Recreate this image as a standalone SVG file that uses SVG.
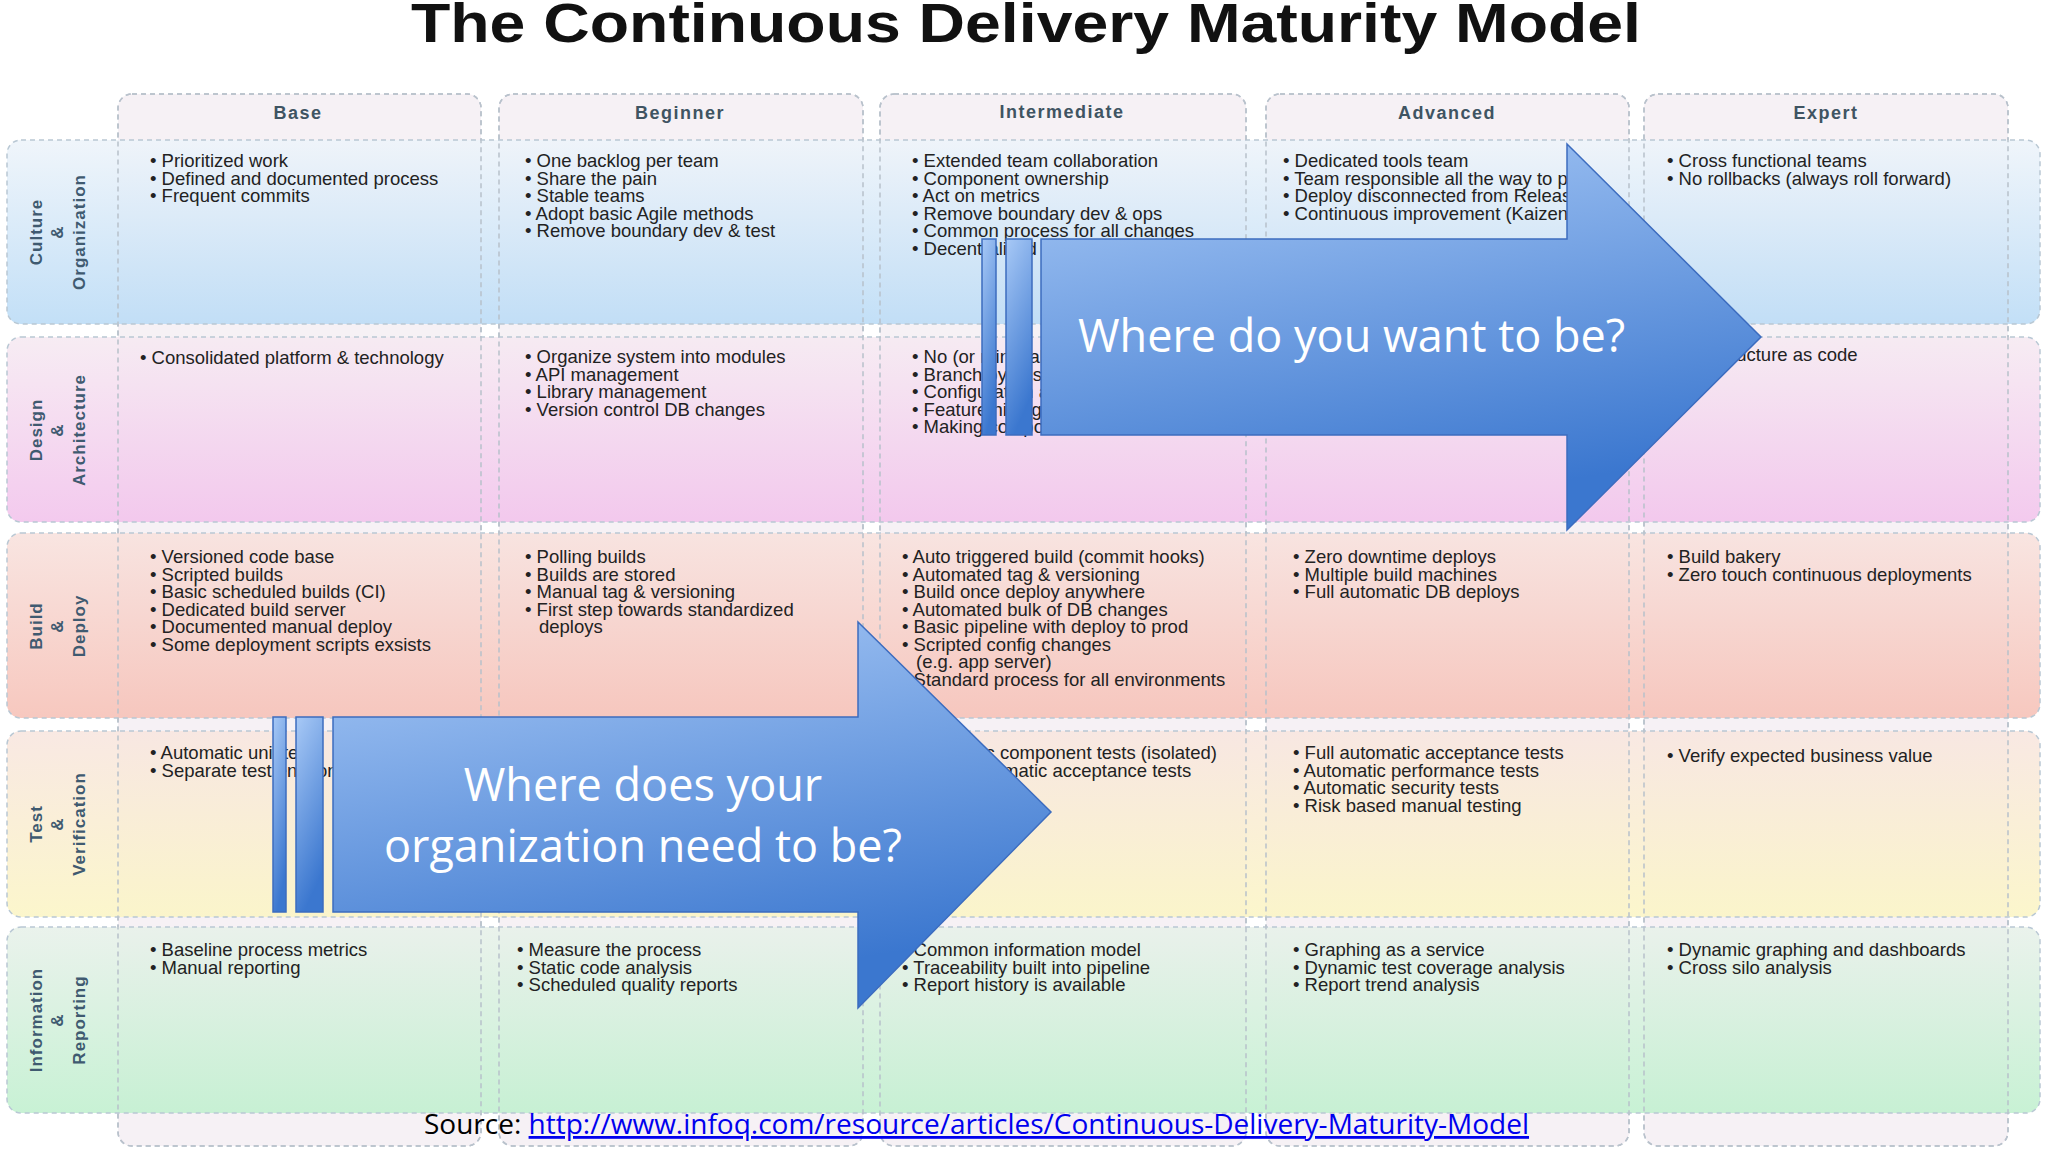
<svg xmlns="http://www.w3.org/2000/svg" width="2048" height="1153" viewBox="0 0 2048 1153">
<defs>
<style>
.col{fill:#f6f1f5;stroke:#b9c2cc;stroke-width:1.5;stroke-dasharray:5 4}
.colo{fill:none;stroke:#b9c2cc;stroke-width:1.5;stroke-dasharray:5 4}
.row{stroke:#b9c8d4;stroke-width:1.5;stroke-dasharray:5 4}
.hd{font-family:"Liberation Sans",Arial,sans-serif;font-weight:bold;font-size:18px;fill:#3f5462;text-anchor:middle;letter-spacing:1.5px}
.rl{font-family:"Liberation Sans",Arial,sans-serif;font-weight:bold;font-size:17px;fill:#3f5a70;text-anchor:middle;letter-spacing:1px}
.t{font-family:"Liberation Sans",Arial,sans-serif;font-size:18.5px;fill:#222}
.arr{fill:url(#ag);stroke:#3c6cbf;stroke-width:1.5}
.at{font-family:"Open Sans","Noto Sans",sans-serif;font-size:45px;fill:#fff}
</style>
<linearGradient id="g1" x1="0" y1="0" x2="0" y2="1"><stop offset="0" stop-color="#eef4fa"/><stop offset="1" stop-color="#bcdcf6"/></linearGradient>
<linearGradient id="g2" x1="0" y1="0" x2="0" y2="1"><stop offset="0" stop-color="#f6eaf2"/><stop offset="1" stop-color="#f2c4ec"/></linearGradient>
<linearGradient id="g3" x1="0" y1="0" x2="0" y2="1"><stop offset="0" stop-color="#f8e2de"/><stop offset="1" stop-color="#f6c2b8"/></linearGradient>
<linearGradient id="g4" x1="0" y1="0" x2="0" y2="1"><stop offset="0" stop-color="#f8e6e0"/><stop offset="1" stop-color="#fbf5c6"/></linearGradient>
<linearGradient id="g5" x1="0" y1="0" x2="0" y2="1"><stop offset="0" stop-color="#e8f1ea"/><stop offset="1" stop-color="#c2f0d0"/></linearGradient>
<linearGradient id="ag" x1="0" y1="0" x2="0.3" y2="1"><stop offset="0" stop-color="#a8c9f6"/><stop offset="1" stop-color="#3b77cf"/></linearGradient>
</defs>
<rect width="2048" height="1153" fill="#fff"/>
<text x="411" y="42" textLength="1230" lengthAdjust="spacingAndGlyphs" font-family="Liberation Sans,Arial,sans-serif" font-weight="bold" font-size="56" fill="#111">The Continuous Delivery Maturity Model</text>

<g id="columns">
<rect class="col" x="118" y="94" width="363" height="1052" rx="14"/>
<rect class="col" x="499" y="94" width="364" height="1052" rx="14"/>
<rect class="col" x="880" y="94" width="366" height="1052" rx="14"/>
<rect class="col" x="1266" y="94" width="363" height="1052" rx="14"/>
<rect class="col" x="1644" y="94" width="364" height="1052" rx="14"/>
<text class="hd" x="298" y="119">Base</text>
<text class="hd" x="680" y="119">Beginner</text>
<text class="hd" x="1062" y="118">Intermediate</text>
<text class="hd" x="1447" y="119">Advanced</text>
<text class="hd" x="1826" y="119">Expert</text>
</g>

<g id="rows">
<rect class="row" x="7" y="140" width="2033" height="184" rx="14" fill="url(#g1)" fill-opacity="0.9"/>
<rect class="row" x="7" y="337" width="2033" height="185" rx="14" fill="url(#g2)" fill-opacity="0.9"/>
<rect class="row" x="7" y="533" width="2033" height="185" rx="14" fill="url(#g3)" fill-opacity="0.9"/>
<rect class="row" x="7" y="731" width="2033" height="186" rx="14" fill="url(#g4)" fill-opacity="0.9"/>
<rect class="row" x="7" y="927" width="2033" height="186" rx="14" fill="url(#g5)" fill-opacity="0.9"/>
<rect class="colo" x="118" y="94" width="363" height="1052" rx="14"/>
<rect class="colo" x="499" y="94" width="364" height="1052" rx="14"/>
<rect class="colo" x="880" y="94" width="366" height="1052" rx="14"/>
<rect class="colo" x="1266" y="94" width="363" height="1052" rx="14"/>
<rect class="colo" x="1644" y="94" width="364" height="1052" rx="14"/>
<text class="rl" transform="translate(42,232) rotate(-90)">Culture</text>
<text class="rl" transform="translate(63,232) rotate(-90)">&amp;</text>
<text class="rl" transform="translate(85,232) rotate(-90)">Organization</text>
<text class="rl" transform="translate(42,430) rotate(-90)">Design</text>
<text class="rl" transform="translate(63,430) rotate(-90)">&amp;</text>
<text class="rl" transform="translate(85,430) rotate(-90)">Architecture</text>
<text class="rl" transform="translate(42,626) rotate(-90)">Build</text>
<text class="rl" transform="translate(63,626) rotate(-90)">&amp;</text>
<text class="rl" transform="translate(85,626) rotate(-90)">Deploy</text>
<text class="rl" transform="translate(42,824) rotate(-90)">Test</text>
<text class="rl" transform="translate(63,824) rotate(-90)">&amp;</text>
<text class="rl" transform="translate(85,824) rotate(-90)">Verification</text>
<text class="rl" transform="translate(42,1020) rotate(-90)">Information</text>
<text class="rl" transform="translate(63,1020) rotate(-90)">&amp;</text>
<text class="rl" transform="translate(85,1020) rotate(-90)">Reporting</text>
</g>

<g id="cells">
<text class="t" x="150" y="167"><tspan x="150">• Prioritized work</tspan><tspan x="150" dy="17.5">• Defined and documented process</tspan><tspan x="150" dy="17.5">• Frequent commits</tspan></text>
<text class="t" x="525" y="167"><tspan x="525">• One backlog per team</tspan><tspan x="525" dy="17.5">• Share the pain</tspan><tspan x="525" dy="17.5">• Stable teams</tspan><tspan x="525" dy="17.5">• Adopt basic Agile methods</tspan><tspan x="525" dy="17.5">• Remove boundary dev &amp; test</tspan></text>
<text class="t" x="912" y="167"><tspan x="912">• Extended team collaboration</tspan><tspan x="912" dy="17.5">• Component ownership</tspan><tspan x="912" dy="17.5">• Act on metrics</tspan><tspan x="912" dy="17.5">• Remove boundary dev &amp; ops</tspan><tspan x="912" dy="17.5">• Common process for all changes</tspan><tspan x="912" dy="17.5">• Decentralized decision making</tspan></text>
<text class="t" x="1283" y="167"><tspan x="1283">• Dedicated tools team</tspan><tspan x="1283" dy="17.5">• Team responsible all the way to prod</tspan><tspan x="1283" dy="17.5">• Deploy disconnected from Release</tspan><tspan x="1283" dy="17.5">• Continuous improvement (Kaizen)</tspan></text>
<text class="t" x="1667" y="167"><tspan x="1667">• Cross functional teams</tspan><tspan x="1667" dy="17.5">• No rollbacks (always roll forward)</tspan></text>

<text class="t" x="140" y="364">• Consolidated platform &amp; technology</text>
<text class="t" x="525" y="363"><tspan x="525">• Organize system into modules</tspan><tspan x="525" dy="17.5">• API management</tspan><tspan x="525" dy="17.5">• Library management</tspan><tspan x="525" dy="17.5">• Version control DB changes</tspan></text>
<text class="t" x="912" y="363"><tspan x="912">• No (or minimal) branching</tspan><tspan x="912" dy="17.5">• Branch by abstraction</tspan><tspan x="912" dy="17.5">• Configuration as code</tspan><tspan x="912" dy="17.5">• Feature hiding</tspan><tspan x="912" dy="17.5">• Making components out of modules</tspan></text>
<text class="t" x="1667" y="361">• Infrastructure as code</text>

<text class="t" x="150" y="563"><tspan x="150">• Versioned code base</tspan><tspan x="150" dy="17.5">• Scripted builds</tspan><tspan x="150" dy="17.5">• Basic scheduled builds (CI)</tspan><tspan x="150" dy="17.5">• Dedicated build server</tspan><tspan x="150" dy="17.5">• Documented manual deploy</tspan><tspan x="150" dy="17.5">• Some deployment scripts exsists</tspan></text>
<text class="t" x="525" y="563"><tspan x="525">• Polling builds</tspan><tspan x="525" dy="17.5">• Builds are stored</tspan><tspan x="525" dy="17.5">• Manual tag &amp; versioning</tspan><tspan x="525" dy="17.5">• First step towards standardized</tspan><tspan x="539" dy="17.5">deploys</tspan></text>
<text class="t" x="902" y="563"><tspan x="902">• Auto triggered build (commit hooks)</tspan><tspan x="902" dy="17.5">• Automated tag &amp; versioning</tspan><tspan x="902" dy="17.5">• Build once deploy anywhere</tspan><tspan x="902" dy="17.5">• Automated bulk of DB changes</tspan><tspan x="902" dy="17.5">• Basic pipeline with deploy to prod</tspan><tspan x="902" dy="17.5">• Scripted config changes</tspan><tspan x="916" dy="17.5">(e.g. app server)</tspan><tspan x="902" dy="17.5">• Standard process for all environments</tspan></text>
<text class="t" x="1293" y="563"><tspan x="1293">• Zero downtime deploys</tspan><tspan x="1293" dy="17.5">• Multiple build machines</tspan><tspan x="1293" dy="17.5">• Full automatic DB deploys</tspan></text>
<text class="t" x="1667" y="563"><tspan x="1667">• Build bakery</tspan><tspan x="1667" dy="17.5">• Zero touch continuous deployments</tspan></text>

<text class="t" x="150" y="759"><tspan x="150">• Automatic unit tests</tspan><tspan x="150" dy="17.5">• Separate test environment</tspan></text>
<text class="t" x="902" y="759"><tspan x="902">• Automatic component tests (isolated)</tspan><tspan x="902" dy="17.5">• Some automatic acceptance tests</tspan></text>
<text class="t" x="1293" y="759"><tspan x="1293">• Full automatic acceptance tests</tspan><tspan x="1293" dy="17.5">• Automatic performance tests</tspan><tspan x="1293" dy="17.5">• Automatic security tests</tspan><tspan x="1293" dy="17.5">• Risk based manual testing</tspan></text>
<text class="t" x="1667" y="762">• Verify expected business value</text>

<text class="t" x="150" y="956"><tspan x="150">• Baseline process metrics</tspan><tspan x="150" dy="17.5">• Manual reporting</tspan></text>
<text class="t" x="517" y="956"><tspan x="517">• Measure the process</tspan><tspan x="517" dy="17.5">• Static code analysis</tspan><tspan x="517" dy="17.5">• Scheduled quality reports</tspan></text>
<text class="t" x="902" y="956"><tspan x="902">• Common information model</tspan><tspan x="902" dy="17.5">• Traceability built into pipeline</tspan><tspan x="902" dy="17.5">• Report history is available</tspan></text>
<text class="t" x="1293" y="956"><tspan x="1293">• Graphing as a service</tspan><tspan x="1293" dy="17.5">• Dynamic test coverage analysis</tspan><tspan x="1293" dy="17.5">• Report trend analysis</tspan></text>
<text class="t" x="1667" y="956"><tspan x="1667">• Dynamic graphing and dashboards</tspan><tspan x="1667" dy="17.5">• Cross silo analysis</tspan></text>
</g>

<g id="arrow-want">
<rect class="arr" x="982" y="239" width="14" height="196"/>
<rect class="arr" x="1006" y="239" width="26" height="196"/>
<polygon class="arr" points="1041,239 1567,239 1567,144 1761,337 1567,530 1567,435 1041,435"/>
<text class="at" x="1078" y="352">Where do you want to be?</text>
</g>

<g id="arrow-need">
<rect class="arr" x="273" y="717" width="13" height="195"/>
<rect class="arr" x="296" y="717" width="27" height="195"/>
<polygon class="arr" points="333,717 858,717 858,622 1051,812 858,1008 858,912 333,912"/>
<text class="at" x="643" y="801" text-anchor="middle">Where does your</text>
<text class="at" x="643" y="862" text-anchor="middle">organization need to be?</text>
</g>

<g id="source">
<text x="424" y="1134" font-family="Open Sans,Noto Sans,sans-serif" font-size="28" fill="#000">Source: <tspan fill="#0000ee" text-decoration="underline">http://www.infoq.com/resource/articles/Continuous-Delivery-Maturity-Model</tspan></text>
</g>
</svg>
